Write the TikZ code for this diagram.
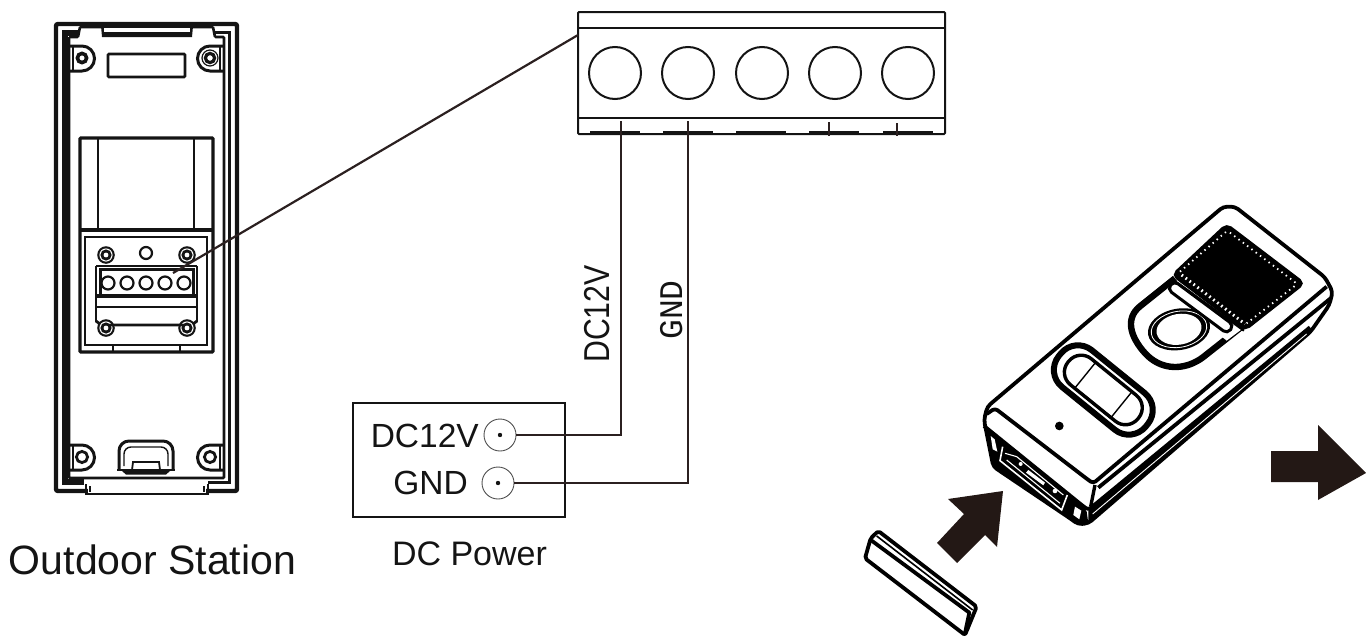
\documentclass[tikz,border=0pt]{standalone}
\usepackage{fontspec}
\usepackage{graphicx}
\setmainfont{Liberation Sans}
\newfontfamily\gndfont{Liberation Mono}
\usetikzlibrary{calc}
\definecolor{ink}{HTML}{141414}
\definecolor{wire}{HTML}{2B2020}
\definecolor{arrowink}{HTML}{231815}
\tikzset{
  thickline/.style={draw=ink,line width=4.4pt,rounded corners=2pt},
  midline/.style={draw=ink,line width=2.6pt,rounded corners=1pt},
  thinline/.style={draw=ink,line width=1.6pt},
  wireline/.style={draw=wire,line width=2.2pt},
  hole/.style={circle,draw=ink,line width=2pt,inner sep=0pt,minimum size=52pt},
  smallhole/.style={circle,draw=ink,line width=2.2pt,inner sep=0pt,minimum size=12pt,fill=white},
  jack/.style={circle,draw=ink!75,line width=.9pt,inner sep=0pt,minimum size=32pt,outer sep=0pt},
  label/.style={inner sep=0pt,text=ink},
  bigarrow/.style={fill=arrowink,draw=none},
  devline/.style={draw=black,line width=3.8pt,line join=round},
  devthin/.style={draw=black,line width=1.6pt,line join=round}
}
\newcommand{\screw}[2]{%
  \fill[ink] (#1,#2) circle (8.8pt);
  \fill[white] (#1,#2) circle (6.6pt);
  \fill[ink] (#1,#2) circle (5.6pt);
  \fill[white] (#1,#2) circle (2.4pt);
}
\begin{document}
\begin{tikzpicture}[x=1pt,y=-1pt]
\useasboundingbox (0,0) rectangle (1366,637);
% ---- outdoor station, back view
\draw[thickline] (56,24) rectangle (237,491);
\fill[white] (88,486) rectangle (206,496);
\draw[draw=ink,line width=1.8pt] (86,484) -- (86,494) -- (208,494) -- (208,484);
\draw[thinline] (90,486) -- (90,492) (204,486) -- (204,492);
\draw[draw=ink,line width=5.6pt] (79,33) -- (65,33) -- (65,482) -- (84,482);
\draw[draw=ink,line width=3pt] (214,32) -- (229.5,32) -- (229.5,482) -- (208,482);
\draw[midline] (69,37) -- (69,478) -- (224,478) -- (224,37) -- (215,37) -- (213,27) -- (193,27);
\draw[midline] (69,37) -- (78,37) -- (80,27) -- (101,27);
\fill[ink] (101,26) -- (193,26) -- (192,37) -- (102,37) -- cycle;
\fill[white] (104,27.8) rectangle (190,31.5);
\draw[midline] (108,54) rectangle (185,77);
% mounts
\draw[ink,line width=3pt] (69,46) -- (82,46) arc (-90:90:12.5) -- (69,71);
\draw[ink,line width=3pt] (224,46) -- (210,46) arc (270:90:12.5) -- (224,71);
\draw[ink,line width=3pt] (69,445) -- (82,445) arc (-90:90:12.5) -- (69,470);
\draw[ink,line width=3pt] (224,445) -- (210,445) arc (270:90:12.5) -- (224,470);
\draw[thinline] (73,47) -- (73,70) (220,47) -- (220,70) (73,445) -- (73,469) (220,445) -- (220,469);
\draw[ink,line width=3.6pt] (82,58) circle (4.6pt);
\draw[ink,line width=1.2pt] (210,58) circle (8pt);
\draw[ink,line width=3.2pt] (210,58) circle (4.6pt);
\draw[ink,line width=2.8pt] (82,457) circle (5.6pt);
\draw[ink,line width=2.8pt] (210,457) circle (5.6pt);
% window
\draw[draw=ink,line width=3.2pt,rounded corners=1pt] (80,138) rectangle (213,352);
\draw[midline] (98,138) -- (98,229) (194,138) -- (194,229);
\draw[draw=ink,line width=3.6pt] (80,230) -- (213,230);
\draw[draw=ink,line width=2.4pt] (85,237) rectangle (207,345);
\draw[thinline] (113,346) -- (113,351) (180,346) -- (180,351);
\screw{106}{255}\screw{187}{255}\screw{106}{328}\screw{187}{328}
\node[smallhole] (led) at (146,253) {};
% small terminal block
\draw[draw=ink,line width=2.8pt] (96,266) -- (197,266) (96,266) -- (96,322) (197,266) -- (197,322);
\draw[draw=ink,line width=2.8pt] (110,325) -- (183,325) (96,321) -- (100,324) (197,321) -- (193,324);
\fill[ink] (99,268) rectangle (194,271);
\draw[draw=ink,line width=3pt] (100,268) -- (100,297) (193,268) -- (193,297);
\draw[draw=ink,line width=3.4pt] (96,296) -- (197,296);
\draw[draw=ink,line width=2.6pt] (96,307) -- (197,307);
\node[smallhole,minimum size=13pt] (s1) at (108,283) {};
\node[smallhole,minimum size=13pt] (s2) at (127,283) {};
\node[smallhole,minimum size=13pt] (s3) at (146,283) {};
\node[smallhole,minimum size=13pt] (s4) at (165,283) {};
\node[smallhole,minimum size=13pt] (s5) at (184,283) {};
% latch
\draw[draw=ink,line width=3pt,rounded corners=10pt] (119,470) -- (119,441) -- (173,441) -- (173,470);
\draw[draw=ink,line width=2.6pt] (117,470) -- (175,470);
\draw[draw=ink,line width=1.4pt,rounded corners=7pt] (124,466) -- (124,447) -- (168,447) -- (168,466);
\draw[draw=ink,line width=1.8pt] (132,470) -- (133,462) -- (159,462) -- (160,470);
\fill[ink] (122,471) -- (170,471) -- (166,474.5) -- (126,474.5) -- cycle;
\node[label,font=\fontsize{41}{41}\selectfont] (station) at (152.5,560) {Outdoor Station};
% ---- large terminal block
\node[rectangle,draw=ink,line width=2pt,minimum width=367pt,minimum height=122pt,inner sep=0pt,outer sep=0pt,rounded corners=1pt] (block) at (761.5,73) {};
\draw[draw=ink,line width=2pt] (578,28) -- (945,28) (578,117.5) -- (945,117.5);
\node[hole] (t1) at (615,73) {};
\node[hole] (t2) at (688,73) {};
\node[hole] (t3) at (762,73) {};
\node[hole] (t4) at (835,73) {};
\node[hole] (t5) at (908,73) {};
\foreach \a in {590,663,736,809,883}{\draw[ink,line width=2.6pt] (\a,132) -- ++(50,0);}
\draw[wire,line width=1.8pt] (829,122) -- (829,136) (897,123) -- (897,136);
% leader
\coordinate (leadfrom) at (173,273);
\draw[wireline] (leadfrom) -- (block.west |- 0,35);
% ---- DC power
\node[rectangle,draw=ink,line width=2pt,minimum width=212pt,minimum height=114pt,inner sep=0pt] (psu) at (459,460) {};
\node[jack] (j1) at (500,435) {};
\node[jack] (j2) at (498,483) {};
\fill[ink] (j1.center) circle (2.2pt) (j2.center) circle (2.2pt);
\node[label,font=\fontsize{33.5}{34}\selectfont,anchor=base east] (l1) at (479,447) {DC12V};
\node[label,font=\fontsize{33.5}{34}\selectfont,anchor=base east] (l2) at (468,494) {GND};
\node[label,font=\fontsize{34}{34}\selectfont,anchor=base] (psutext) at (469.5,565) {DC Power};
\coordinate (w1) at (621,121);
\coordinate (w2) at (688,121);
\draw[wireline] (j1.east) -- (w1 |- j1.east) -- (w1);
\draw[wireline] (j2.east) -- (w2 |- j2.east) -- (w2);
\node[label,font=\fontsize{36}{36}\selectfont,rotate=90,anchor=base] (v1) at (609,314) {\scalebox{.84}[1]{DC12V}};
\node[label,font=\gndfont\fontsize{33}{33}\selectfont,rotate=90,anchor=base] (v2) at (682,310) {GND};
% ---- arrows
\fill[bigarrow] (1271,451) -- (1318,451) -- (1318,425) -- (1366,473) -- (1318,500) -- (1318,482) -- (1271,482) -- cycle;
\fill[bigarrow] (1003,491) -- (948,499) -- (964,514) -- (937,543) -- (957,563) -- (985,535) -- (997,547) -- cycle;
% ---- cover strip
\begin{scope}[shift={(850,470)},x=.3333pt,y=-.3333pt]
\draw[devline,rounded corners=2pt] (62,205) -- (85,183) -- (380,410) -- (345,495) -- (45,265) -- cycle;
\draw[devthin] (80,198) -- (368,420);
\draw[devline] (65,212) -- (358,428) -- (345,490);
\draw[devthin] (368,432) -- (355,478);
\end{scope}
% ---- device
\begin{scope}[shift={(960,190)},x=.3333pt,y=-.3333pt]
% body outline
\draw[devline,fill=white,rounded corners=4pt] (82,650) -- (790,50) -- (825,50) -- (1095,262) -- (1118,305) -- (1108,345) -- (1052,425) -- (385,1000) -- (355,1003) -- (330,985) -- (100,830) -- (82,740) -- (72,690) -- cycle;
% face lower edge + band
\draw[devline,rounded corners=3pt] (80,672) -- (105,655) -- (385,870) -- (400,880) -- (1100,290);
\draw[devline] (415,893) -- (1112,325);
\draw[devline,rounded corners=3pt] (72,708) -- (365,945) -- (385,960) -- (1050,412);
\draw[draw=black,line width=3.4pt] (405,885) -- (392,950);
% lower strip
\fill[black] (385,962) -- (1050,412) -- (1052,428) -- (385,1000) -- cycle;
\draw[white,line width=.9pt] (398,972) -- (1040,432);
% connector end
\fill[black] (78,712) -- (365,945) -- (380,965) -- (385,1000) -- (355,1003) -- (330,985) -- (100,830) -- (84,760) -- cycle;
\draw[white,line width=.9pt] (88,705) -- (380,935);
\fill[white] (92,738) -- (104,748) -- (112,785) -- (98,778) -- cycle;
\fill[white] (345,950) -- (364,962) -- (358,988) -- (340,975) -- cycle;
\draw[white,line width=1.6pt] (128,770) -- (120,812) -- (305,960) -- (322,915);
\draw[white,line width=1.1pt] (135,790) -- (170,800) -- (310,915);
\draw[white,line width=1.1pt] (140,810) -- (300,940);
\fill[white] (205,840) -- (255,878) -- (250,886) -- (198,848) -- cycle;
\fill[white] (285,903) circle (7);
\fill[white] (182,822) circle (6);
% LED
\fill[black] (298,708) circle (13);
% speaker
\draw[draw=black,line width=3.4pt,rounded corners=5pt,fill=black] (800,105) -- (1030,280) -- (855,418) -- (640,255) -- cycle;
\draw[white,line width=1.8pt,dash pattern=on 1.4pt off 4pt,rounded corners=3pt] (660,245) -- (802,122) -- (1012,282) -- (860,400);
\draw[white,line width=3pt,dash pattern=on 1.6pt off 3.4pt] (665,255) -- (855,402);
% call button surround
\draw[black,line width=6.4pt,rounded corners=2pt] (645,265) -- (545,345) .. controls (495,385) and (510,440) .. (560,495) .. controls (610,540) and (670,540) .. (725,505) -- (848,408);
\fill[white] (648,272) -- (845,418) -- (800,452) -- (640,320) -- cycle;
\draw[black,line width=2.2pt] (640,270) -- (852,422);
% ring
\begin{scope}[shift={(657,418)},rotate=10]
\fill[black] (0,0) ellipse (94 and 62);
\draw[white,line width=.8pt] (0,0) ellipse (84 and 54);
\fill[white] (0,0) ellipse (68 and 46);
\end{scope}
% slot
\begin{scope}[shift={(722,352)},rotate=-36.6]
\draw[black,line width=3pt,fill=white,rounded corners=5pt] (-112,-16) rectangle (112,16);
\end{scope}
% keypad pill
\begin{scope}[shift={(430,600)},rotate=-39]
\draw[black,line width=6pt,rounded corners=22pt] (-168,-71) rectangle (168,71);
\draw[white,line width=.7pt,rounded corners=19pt] (-152,-56) rectangle (152,56);
\draw[black,line width=3.4pt,rounded corners=16pt,fill=white] (-135,-50) rectangle (135,50);
\draw[black,line width=2.6pt] (-70,50) -- (70,50);
\draw[black,line width=1.4pt] (-70,-50) -- (-70,50);
\draw[black,line width=1.4pt] (70,-50) -- (70,50);
\end{scope}
\end{scope}
\end{tikzpicture}
\end{document}
